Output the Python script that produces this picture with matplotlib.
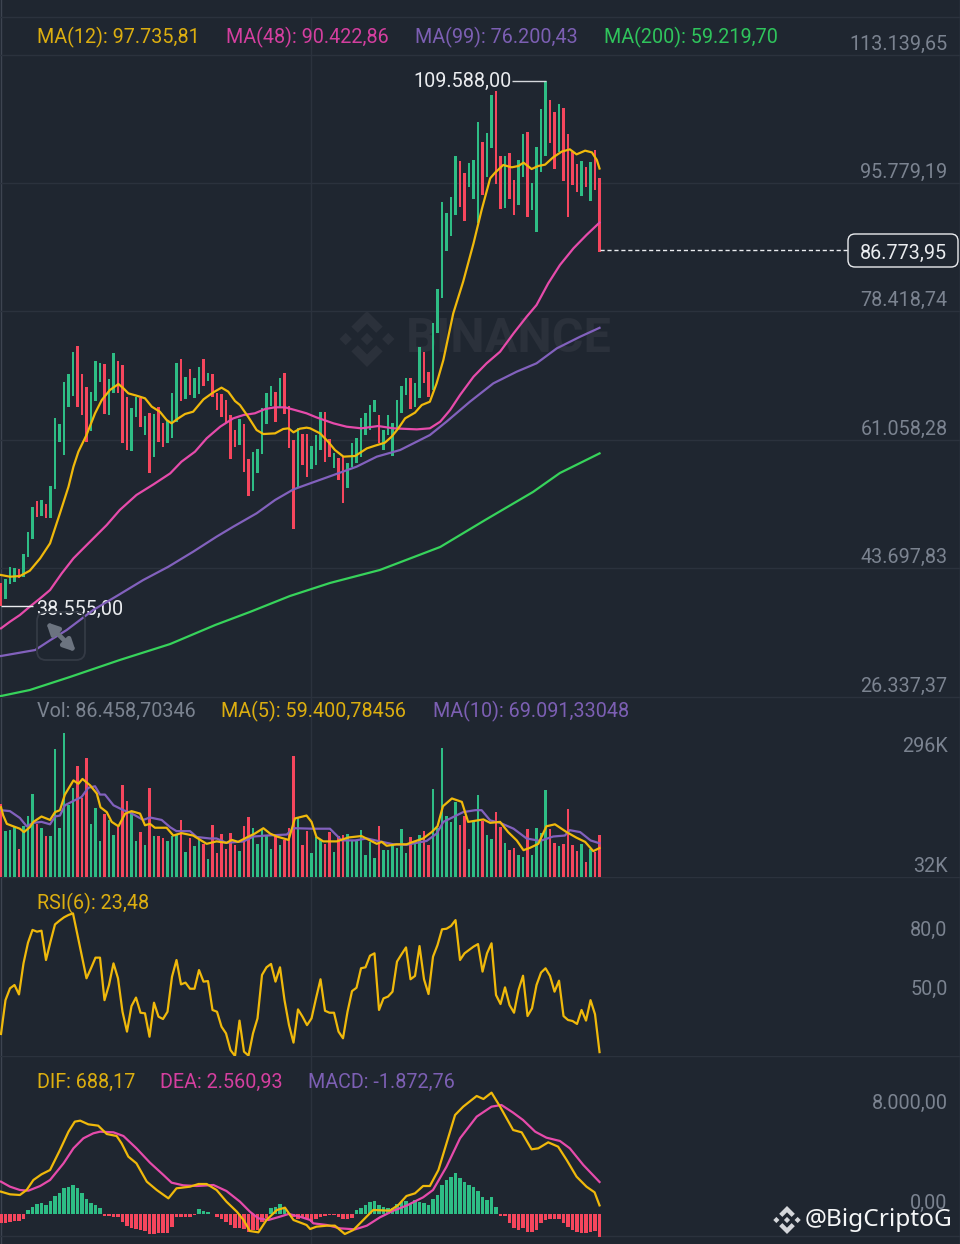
import matplotlib
matplotlib.use('Agg')
import matplotlib.pyplot as plt
import numpy as np
from matplotlib.patches import FancyBboxPatch, Polygon

plt.rcParams['font.family'] = ['Roboto', 'DejaVu Sans']

# candles, oldest first. G = up, R = down
candle_side = ("RGGGRGGGRG" "RGGGGGGRRR" "GGGRGGRRRG" "GRGRGRRGGG" "RGRGGRGRRR"
               "RRRGRRGGGG" "GRGRRRGRRG" "GGRRGRRGGG" "GGGGRGGGGG" "GRGGRRGGGG"
               "GGRRGGGRGG" "RRGRRGGRGG" "GGRRGRRRRG" "RGRR")
high = [41650, 42190, 43815, 43680, 43545, 45620, 48550, 51930, 52740, 52920,
        52330, 54810, 63960, 63200, 68920, 69910, 72930, 73740, 69960, 68150,
        67570, 71670, 71490, 71310, 69230, 72750, 71670, 71170, 66800, 65360,
        66890, 66670, 64280, 64640, 64550, 65450, 63380, 63650, 67340, 71400,
        71940, 69500, 70590, 69370, 70950, 71940, 70140, 69960, 67340, 67250,
        66440, 64410, 62380, 63830, 63200, 58420, 59450, 59770, 65310, 67340,
        68330, 67570, 69370, 70050, 65630, 61030, 62610, 61840, 61840, 60220,
        61700, 64860, 64860, 61120, 59320, 58550, 58780, 57970, 60580, 61260,
        64050, 64640, 65760, 66440, 64410, 62380, 64410, 63370, 66440, 68330,
        69370, 69370, 68780, 73560, 72880, 70270, 76800, 81450, 93160, 91770,
        93840, 99470, 98800, 97090, 98530, 98890, 103980, 101280, 102490, 107680,
        108260, 99430, 99470, 99790, 96180, 98890, 102400, 102630, 95730, 100600,
        105740, 109588, 107000, 105420, 106420, 105870, 102400, 100020, 98350, 98750,
        97900, 98620, 100240, 96410]
low = [38555, 39490, 41560, 41880, 42330, 42550, 45260, 47600, 50580, 50760,
       50530, 50530, 54410, 60760, 59000, 65540, 66980, 65540, 64460, 60760,
       62250, 66300, 68920, 64500, 64410, 67430, 67430, 60580, 59680, 59590,
       64190, 62740, 61710, 56520, 58780, 60810, 60130, 60580, 61260, 63510,
       66300, 66530, 67120, 66670, 67250, 68330, 69050, 66890, 65090, 64100,
       63290, 58420, 60040, 60360, 56750, 53510, 54180, 56520, 59140, 63200,
       65630, 63510, 65540, 64550, 59910, 49000, 54720, 57650, 56070, 57060,
       57650, 59680, 58100, 58780, 57200, 55620, 52560, 54580, 57420, 57870,
       58780, 61700, 62380, 64860, 60580, 59680, 61700, 58910, 62380, 64640,
       67110, 65180, 65540, 66660, 68780, 66890, 67790, 75450, 80180, 86580,
       88660, 91450, 92580, 90690, 95280, 93570, 90330, 94160, 96640, 100560,
       95640, 92220, 92440, 93570, 91450, 92850, 96640, 91140, 92130, 89200,
       97310, 99430, 101230, 97720, 100020, 96090, 91230, 95510, 94610, 94020,
       95190, 93340, 94830, 86400]

# moving averages: bar position, price
ma12_x = [0, 2, 4.2, 6.4, 8.7, 10.9, 13.1, 15, 16.1, 17.2, 19, 20.9, 22.4, 24.2, 26.1, 27.2,
          28.3, 30.1, 32, 33.5, 35.3, 36.8, 37.9, 39.4, 40.9, 42.7, 45, 47.2, 49, 50.5, 52,
          53.1, 55, 56.8, 58.3, 60.9, 62.7, 63.9, 65, 66.4, 67.9, 68.7, 70.9, 72.7, 74.2,
          76.1, 78.7, 81.3, 83.1, 85.3, 86.8, 88.3, 89.8, 92, 93.5, 95.3, 96.8, 98.3, 100.5,
          102.7, 105, 106.8, 108.7, 109.8, 111.6, 113.5, 115, 116.1, 117.9, 119.4, 120.9,
          122.7, 124.6, 126.4, 127.9, 129.8, 131.3, 132.4, 133]
ma12_y = [42780, 42550, 42640, 43360, 45030, 47060, 51120, 54720, 57420, 59450, 61710, 64640,
          66440, 67790, 68600, 68020, 67340, 67030, 66670, 65540, 64860, 63740, 63290, 63960,
          64550, 64860, 66530, 67480, 68110, 67570, 66300, 65760, 64100, 62380, 61840, 61930,
          62520, 62610, 62070, 62560, 62700, 62610, 61930, 60800, 59680, 58780, 58870, 59900,
          60260, 60670, 61480, 62610, 63960, 64730, 65760, 66210, 68690, 71850, 78160, 82440,
          87620, 92130, 96410, 97180, 98210, 97900, 98080, 98530, 97670, 98080, 98260, 99250,
          100020, 100330, 99650, 100150, 99920, 98890, 97735]
ma48_x = [0, 2, 4.2, 6.4, 8.7, 10.9, 13.5, 16.1, 18.3, 20.9, 23.5, 26.4, 30.1, 33.9, 37.6, 40.1,
          43.1, 45.7, 48.7, 51.6, 53.9, 56.4, 58.7, 60.9, 63.1, 65.3, 67.9, 70.1, 73.9, 76.8,
          80.1, 83.8, 87.2, 92.4, 95.3, 97.6, 99.8, 102, 105, 107.9, 110.9, 113.9, 116.8, 119,
          121.6, 124.2, 127.2, 130.1, 133]
ma48_y = [35570, 36470, 37370, 38500, 39620, 40750, 43000, 45030, 46380, 47960, 49540, 51570,
          53600, 55040, 56520, 58100, 59450, 61260, 62830, 63960, 64410, 64640, 65220, 65450,
          65450, 65090, 64640, 64090, 63280, 62830, 62610, 62920, 62610, 62470, 62610, 63510,
          65090, 67110, 69590, 71400, 72970, 75450, 77700, 79280, 82210, 84690, 86940, 88750,
          90423]
ma99_x = [0, 7.6, 11, 14.6, 20.5, 26.1, 31.6, 37.2, 42.7, 47.9, 51.6, 56.8, 60.9, 65, 68.7, 73.9,
          79, 83.5, 88.7, 95.3, 99, 104.2, 109.4, 114.6, 119, 123.5, 128.7, 133]
ma99_y = [31830, 32640, 33990, 35340, 38050, 40075, 42100, 43900, 45930, 47960, 49310, 51120,
          52920, 54360, 55170, 56300, 57420, 58780, 59680, 61700, 63510, 66210, 68690, 70270,
          71400, 73420, 75000, 76200]
ma200_x = [0, 6.4, 15.3, 26.4, 37.6, 47.6, 55.3, 64.2, 73.1, 84.2, 97.6, 107.6, 118.2, 124.2, 133]
ma200_y = [26420, 27230, 28990, 31290, 33450, 36020, 37780, 39940, 41700, 43460, 46570, 50220,
           54000, 56570, 59220]

# volume in thousands
volume = [150, 94, 96, 102, 58, 104, 126, 171, 108, 100, 85, 85, 263, 101, 295, 147, 183, 227,
          161, 244, 108, 141, 74, 130, 116, 87, 106, 188, 155, 133, 73, 92, 65, 183, 85, 85, 80,
          74, 85, 89, 117, 51, 79, 64, 75, 67, 36, 107, 49, 89, 57, 91, 65, 53, 105, 122, 100, 68,
          96, 85, 57, 89, 66, 75, 101, 248, 122, 66, 94, 49, 82, 75, 67, 92, 51, 85, 87, 89, 75,
          75, 96, 46, 72, 39, 105, 55, 55, 68, 60, 98, 49, 81, 68, 87, 94, 65, 181, 101, 264, 126,
          113, 154, 106, 126, 58, 115, 169, 115, 87, 77, 133, 102, 70, 55, 60, 46, 42, 99, 46, 100,
          90, 178, 99, 70, 64, 68, 140, 65, 53, 67, 31, 58, 51, 86.46]
vol_ma5_x = [0, 0.5, 1.3, 2.7, 4.2, 5.1, 6.4, 7.2, 9, 10.9, 12, 13.1, 14.2, 16.1, 17.2, 18.1, 19.8,
             21.3, 22.1, 23.5, 24.6, 26.1, 27.6, 29, 30.9, 32, 33.1, 34.2, 36.8, 38.3, 40.1, 42.7,
             45.7, 47.9, 50.1, 51.3, 52.7, 54.6, 56.4, 58.3, 59.8, 61.3, 63.9, 65.3, 67.9, 69,
             70.1, 71.6, 74.6, 77.2, 80.1, 83.5, 84.6, 85.7, 87.9, 90.1, 91.6, 93.8, 95.7, 97, 98.2,
             100.2, 102.4, 103.8, 107.2, 108.7, 110.9, 112.7, 114.6, 116.1, 117.6, 119.4, 121.2,
             123.1, 125.7, 127.8, 129.8, 131.6, 133]
vol_ma5_y = [143, 126, 109, 104, 99, 92, 102, 113, 124, 117, 133, 137, 169, 198, 191, 201, 188,
             171, 143, 133, 113, 104, 130, 135, 130, 106, 109, 101, 101, 85, 90, 85, 68, 73, 70, 76,
             72, 81, 89, 100, 89, 83, 76, 120, 126, 113, 82, 73, 73, 81, 84, 68, 72, 64, 67, 67, 72,
             79, 92, 104, 145, 161, 154, 113, 118, 111, 113, 92, 75, 55, 60, 68, 104, 108, 92, 81,
             72, 53, 59.4]
vol_ma10_x = [0, 2, 4.2, 5.7, 7.2, 9, 10.9, 12, 13.1, 14.2, 16.1, 17.9, 19.4, 20.9, 22, 23.1, 25,
              27.2, 28.7, 31.6, 33.1, 35.7, 37.6, 39, 42, 43.5, 46.4, 47.9, 50.1, 53.9, 56.1, 59,
              63.5, 65, 69.4, 73.1, 75.7, 78.7, 81.3, 84.2, 87.2, 90.1, 94.6, 96.8, 98.3, 100.5,
              102.7, 105.4, 106.8, 108.7, 110.9, 113.9, 116.8, 119.8, 122.7, 125.3, 126.4, 128.7,
              131, 133]
vol_ma10_y = [137, 135, 121, 104, 111, 113, 108, 124, 126, 147, 156, 164, 183, 186, 169, 169, 147,
              137, 132, 117, 122, 117, 102, 94, 94, 82, 79, 79, 70, 73, 83, 85, 87, 100, 99, 99, 75,
              75, 79, 73, 67, 66, 74, 89, 113, 123, 133, 137, 137, 116, 111, 99, 79, 74, 83, 85, 96,
              92, 75, 69.09]

rsi6 = [32.7, 49.9, 55.9, 57.6, 52.8, 68.6, 79.1, 85.6, 84.7, 85.2, 70.3, 79.6, 88.4, 90.3, 92.0,
        93.2, 94.0, 83.0, 72.0, 61.0, 66.1, 71.5, 71.5, 49.9, 57.6, 68.6, 61.0, 44.0, 33.9, 46.9,
        51.2, 43.5, 43.2, 31.3, 48.6, 41.5, 40.3, 44.0, 61.8, 70.3, 57.9, 58.8, 55.7, 55.7, 65.2,
        59.3, 59.6, 44.9, 44.0, 36.4, 33.0, 24.5, 21.5, 39.5, 23.7, 21.7, 33.0, 40.6, 62.7, 66.6,
        68.3, 59.3, 66.6, 49.9, 37.2, 28.3, 45.2, 41.5, 37.2, 40.6, 50.8, 60.5, 44.5, 43.5, 43.5,
        33.9, 30.5, 44.0, 54.5, 56.2, 66.1, 66.6, 72.5, 73.7, 44.9, 50.8, 51.7, 54.2, 69.5, 73.2,
        76.7, 60.5, 62.2, 77.4, 60.5, 53.0, 72.0, 77.9, 85.9, 86.2, 87.6, 90.6, 70.3, 73.7, 75.4,
        77.1, 78.4, 64.4, 73.7, 78.8, 52.5, 47.9, 56.4, 47.4, 43.5, 55.1, 62.3, 41.8, 45.7, 57.6,
        63.9, 66.1, 62.2, 54.2, 59.8, 41.8, 39.8, 39.3, 37.8, 44.9, 39.5, 49.9, 42.7, 23.48]

dif_x = [0, 2, 4.2, 5.7, 7.2, 9, 10.9, 13.1, 15, 16.4, 17.6, 19.4, 21.6, 23.5, 25.7, 26.8, 28.3,
         30.1, 32.4, 34.6, 37.2, 39, 42, 43.9, 45.7, 47.9, 50.1, 52.4, 53.9, 55.3, 57.2, 59, 61.3,
         63.1, 65, 67.9, 68.7, 70.1, 72.4, 74.2, 76.4, 78.3, 80.5, 82.7, 86.4, 88.3, 90.1, 92,
         93.8, 95.3, 97.2, 99, 100.9, 102.7, 105.7, 107.2, 109, 110.9, 113.8, 115.7, 117.9, 119.4,
         121.6, 123.8, 125.7, 127.9, 130.1, 131.9, 133]
dif_y = [1787, 1574, 1520, 1920, 2720, 3174, 3520, 5120, 6587, 7388, 7468, 7174, 7068, 6400, 6240,
         5654, 4587, 4054, 2587, 1920, 1253, 2054, 2187, 2400, 2400, 1920, 987, 187, -480, -1360,
         -1467, -480, 320, 507, -480, -880, -1200, -1013, -933, -933, -1600, -1280, -480, 320, 267,
         720, 1440, 1654, 2240, 2240, 3520, 5654, 7920, 8587, 9441, 9201, 9708, 8587, 6720, 6534,
         5174, 5254, 5734, 5387, 4320, 2987, 2187, 1734, 688]
dea_x = [0, 2, 4.2, 6.1, 8.7, 10.9, 13.9, 16.1, 18.3, 20.5, 22, 25, 27.2, 30.1, 33.1, 36.1, 37.9,
         40.5, 43.5, 47.2, 50.1, 53.1, 55.3, 57.2, 59.4, 62, 63.9, 66.4, 68.7, 69.4, 72.4, 75.3,
         78.7, 81.3, 84.2, 87.2, 90.1, 93.8, 96, 99, 102, 105.7, 109, 111.2, 113.8, 116, 118.7,
         121.2, 124.2, 126.4, 129.4, 133]
dea_y = [2587, 2187, 1920, 1867, 2240, 2720, 4054, 5254, 6054, 6454, 6587, 6534, 6240, 5254, 4107,
         3120, 2507, 2294, 2240, 2320, 1840, 987, 187, -347, -480, -213, 0, -213, -480, -747, -880,
         -1147, -1227, -933, -267, 267, 667, 1334, 1920, 3787, 6054, 7788, 8587, 8721, 8107, 7521,
         6587, 6107, 5841, 5254, 3920, 2561]
macd_hist = [-693, -693, -613, -560, -533, -427, 320, 587, 800, 907, 720, 1067, 1440, 1707, 2054,
             2187, 2320, 2054, 1707, 1173, 853, 720, 453, -133, -133, -213, -213, -613, -933, -1147,
             -1200, -1280, -1333, -1627, -1600, -1547, -1547, -1493, -1013, -213, -213, -213, -213,
             -80, 373, 267, 187, -27, -213, -427, -667, -880, -1147, -1147, -1227, -1413, -1280,
             -1280, -613, -347, 453, 587, 773, 400, -80, -213, -427, -347, -427, -613, -427, -267,
             -160, -107, -107, -267, -373, -427, -347, 320, 453, 720, 933, 1067, 720, 587, 507, 507,
             800, 987, 1067, 853, 1120, 987, 907, 720, 1173, 1520, 2320, 2720, 2987, 3307, 2854,
             2587, 2320, 2187, 1867, 1387, 1120, 1387, 587, -133, -160, -747, -1093, -1280, -1147,
             -1413, -1413, -1280, -747, -480, -427, -400, -427, -747, -1013, -1280, -1467, -1547,
             -1493, -1413, -1333, -1872.76]

price_ticks = [113139.65, 95779.19, 78418.74, 61058.28, 43697.83, 26337.37]
price_labels = ['113.139,65', '95.779,19', '78.418,74', '61.058,28', '43.697,83', '26.337,37']
last_price = 86773.95

BG = '#1f2630'
GRID = '#2b323d'
GREY = '#7b8390'
GREEN = '#2ebd85'
RED = '#f6465d'
YELLOW = '#f0b90b'
PINK = '#e64bab'
PURPLE = '#8261bd'
LIME = '#37d35b'
W, H = 960, 1244

fig = plt.figure(figsize=(W / 100, H / 100), dpi=100, facecolor=BG)


def panel(top, bottom):
    a = fig.add_axes([0, 1 - bottom / H, 1, (bottom - top) / H], facecolor='none', zorder=2)
    a.set_xlim(-0.22, 213.1)
    a.set_xticks([])
    a.set_yticks([])
    for s in a.spines.values():
        s.set_visible(False)
    return a


def axis_label(a, value, label):
    a.annotate(label, xy=(1, value), xycoords=a.get_yaxis_transform(), xytext=(-9, 7.6),
               textcoords='offset points', ha='right', va='center', color=GREY, fontsize=FS,
               zorder=6)


def header(a, y, parts):
    for x, txt, c in parts:
        a.text(x / W, 1 - y, txt, transform=a.transAxes, color=c, fontsize=FS, va='center',
               ha='left', zorder=6)


def logo(a, cx, cy, r, color):
    small = 0.22
    for dx in (-0.76, 0, 0.76):
        a.add_patch(Polygon([(cx + (dx - small) * r, cy), (cx + dx * r, cy - small * r),
                             (cx + (dx + small) * r, cy), (cx + dx * r, cy + small * r)],
                            fc=color, ec='none'))
    for sign in (-1, 1):
        pts = [(0, 1), (0.56, 0.44), (0.33, 0.22), (0, 0.55), (-0.33, 0.22), (-0.56, 0.44)]
        a.add_patch(Polygon([(cx + px * r, cy + sign * py * r) for px, py in pts],
                            fc=color, ec='none'))


FS = 14.2
x = np.arange(len(high))
side_colors = [GREEN if s == 'G' else RED for s in candle_side]
cursor_x = 68.9

# background layer, watermark and frame
bg = fig.add_axes([0, 0, 1, 1], facecolor=BG, zorder=0)
bg.set_xlim(0, W)
bg.set_ylim(H, 0)
bg.axis('off')
logo(bg, 367, 339, 28, '#2b313b')
bg.text(406, 339, 'BINANCE', color='#2b313b', fontsize=35, fontweight='bold', va='center', ha='left')
bg.plot([0.5, 0.5], [0, H], color='#3d4450', lw=1)
bg.plot([959.5, 959.5], [0, H], color='#3d4450', lw=1)
bg.plot([0, W], [16.5, 16.5], color=GRID, lw=1)

# price
ax = panel(0, 697)
ax.set_ylim(26286, 120520)
for t, lab in zip(price_ticks, price_labels):
    ax.axhline(t, color=GRID, lw=1, zorder=1)
    axis_label(ax, t, lab)
ax.axvline(cursor_x, ymax=1 - 17 / 697, color=GRID, lw=1, zorder=1)
ax.bar(x, np.array(high) - np.array(low), bottom=low, width=0.48, color=side_colors, zorder=2)
ax.plot(ma200_x, ma200_y, color=LIME, lw=1.6, zorder=3)
ax.plot(ma99_x, ma99_y, color=PURPLE, lw=1.6, zorder=3)
ax.plot(ma48_x, ma48_y, color=PINK, lw=1.6, zorder=3)
ax.plot(ma12_x, ma12_y, color=YELLOW, lw=1.6, zorder=3)
header(ax, 37 / 697, [(37, 'MA(12): 97.735,81', '#dcae10'), (226, 'MA(48): 90.422,86', '#d43f9f'),
                      (415, 'MA(99): 76.200,43', '#7c5fb3'), (604, 'MA(200): 59.219,70', '#2fc45c')])
ax.hlines(109588, 113.6, 121, color='#d5d8dc', lw=1, zorder=4)
ax.text(113.4, 109450, '109.588,00', color='#eaecef', fontsize=FS, ha='right', va='center', zorder=5)
ax.hlines(38555, 0, 7.1, color='#eaecef', lw=1, zorder=4)
ax.text(7.8, 38150, '38.555,00', color='#eaecef', fontsize=FS, ha='left', va='center', zorder=2.5)
ax.hlines(last_price, 133, 188.2, color='#eaecef', lw=1, linestyles=(0, (3, 2)), zorder=4)

# volume
ax2 = panel(697, 877)
ax2.set_ylim(0, 369)
ax2.axhline(369, color=GRID, lw=1)
ax2.axvline(cursor_x, color=GRID, lw=1, zorder=1)
ax2.bar(x, volume, width=0.52, color=side_colors, zorder=2)
ax2.plot(vol_ma10_x, vol_ma10_y, color=PURPLE, lw=1.6, zorder=3)
ax2.plot(vol_ma5_x, vol_ma5_y, color=YELLOW, lw=1.6, zorder=3)
axis_label(ax2, 246, '296K')
axis_label(ax2, 0, '32K')
header(ax2, 14 / 180, [(37, 'Vol: 86.458,70346', GREY), (221, 'MA(5): 59.400,78456', '#dcae10'),
                       (433, 'MA(10): 69.091,33048', '#7c5fb3')])

# rsi
ax3 = panel(877, 1056)
ax3.set_ylim(21.5, 112.5)
ax3.axhline(112.5, color=GRID, lw=1)
ax3.axvline(cursor_x, color=GRID, lw=1, zorder=1)
ax3.plot(x, rsi6, color=YELLOW, lw=1.6, zorder=3, clip_on=False)
axis_label(ax3, 80, '80,0')
axis_label(ax3, 50, '50,0')
header(ax3, 26 / 179, [(37, 'RSI(6): 23,48', '#dcae10')])

# macd
ax4 = panel(1056, 1244)
ax4.set_ylim(-2400, 12640)
ax4.axhline(12640, color=GRID, lw=1)
ax4.axhline(-1760, color=GRID, lw=1)
ax4.axvline(cursor_x, color=GRID, lw=1, zorder=1)
hist_colors = [GREEN if v > 0 else RED for v in macd_hist]
ax4.bar(x, macd_hist, width=0.82, color=hist_colors, zorder=2)
ax4.plot(dea_x, dea_y, color=PINK, lw=1.6, zorder=3)
ax4.plot(dif_x, dif_y, color=YELLOW, lw=1.6, zorder=3)
axis_label(ax4, 8000, '8.000,00')
axis_label(ax4, 0, '0,00')
header(ax4, 26 / 188, [(37, 'DIF: 688,17', '#dcae10'), (160, 'DEA: 2.560,93', '#d43f9f'),
                       (308, 'MACD: -1.872,76', '#7c5fb3')])

# top layer: price badge, expand button, handle
top = fig.add_axes([0, 0, 1, 1], facecolor='none', zorder=5)
top.set_xlim(0, W)
top.set_ylim(H, 0)
top.axis('off')
top.add_patch(FancyBboxPatch((853, 239), 100, 23, boxstyle='round,pad=5,rounding_size=7',
                             fc=BG, ec='#eaecef', lw=1))
top.text(903.5, 253, '86.773,95', color='#eaecef', fontsize=FS, ha='center', va='center')
top.add_patch(FancyBboxPatch((42, 617), 38, 38, boxstyle='round,pad=5,rounding_size=9',
                             fc='none', ec='#343a45', lw=1.3))
top.annotate('', xy=(46, 622), xytext=(76, 652),
             arrowprops=dict(arrowstyle='<|-|>', color='#6c7480', lw=3.4, mutation_scale=17,
                             shrinkA=0, shrinkB=0))
logo(top, 787, 1220, 14, '#d4d6da')
top.text(805, 1220, '@BigCriptoG', color='#f5f6f7', fontsize=17.6, ha='left', va='center',
         family=['Noto Sans', 'DejaVu Sans'])

fig.savefig('out.png', dpi=100, facecolor=BG)
